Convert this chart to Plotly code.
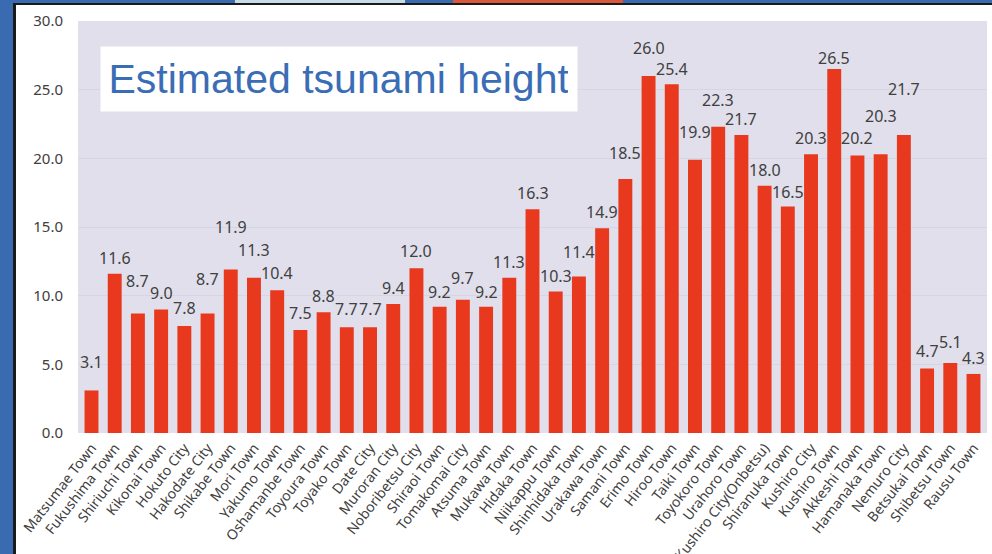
import plotly.graph_objects as go

towns = ["Matsumae Town", "Fukushima Town", "Shiriuchi Town", "Kikonai Town", "Hokuto City",
         "Hakodate City", "Shikabe Town", "Mori Town", "Yakumo Town", "Oshamanbe Town",
         "Toyoura Town", "Toyako Town", "Date City", "Muroran City", "Noboribetsu City",
         "Shiraoi Town", "Tomakomai City", "Atsuma Town", "Mukawa Town", "Hidaka Town",
         "Niikappu Town", "Shinhidaka Town", "Urakawa Town", "Samani Town", "Erimo Town",
         "Hiroo Town", "Taiki Town", "Toyokoro Town", "Urahoro Town", "Kushiro City(Onbetsu)",
         "Shiranuka Town", "Kushiro City", "Kushiro Town", "Akkeshi Town", "Hamanaka Town",
         "Nemuro City", "Betsukai Town", "Shibetsu Town", "Rausu Town"]
heights = [3.1, 11.6, 8.7, 9.0, 7.8, 8.7, 11.9, 11.3, 10.4, 7.5,
           8.8, 7.7, 7.7, 9.4, 12.0, 9.2, 9.7, 9.2, 11.3, 16.3,
           10.3, 11.4, 14.9, 18.5, 26.0, 25.4, 19.9, 22.3, 21.7, 18.0,
           16.5, 20.3, 26.5, 20.2, 20.3, 21.7, 4.7, 5.1, 4.3]
y_ticks = [0, 5, 10, 15, 20, 25, 30]

# style: label lift above bar top (px)
label_lift = [28, 16, 33, 16, 18, 35, 43, 28, 17, 17, 16, 18, 18, 16, 17, 15, 22, 15, 16, 16,
              16, 24, 16, 26, 28, 15, 28, 27, 16, 16, 14, 16, 11, 18, 38, 46, 17, 21, 16]

FONT = "Noto Sans, DejaVu Sans, sans-serif"
fig = go.Figure(go.Bar(x=towns, y=heights, marker=dict(color="#E8391F", line=dict(width=0)),
                       hoverinfo="x+y"))

for t, h, s in zip(towns, heights, label_lift):
    fig.add_annotation(x=t, y=h, text=f"{h:.1f}", showarrow=False, yanchor="middle",
                       yshift=s, font=dict(family=FONT, size=16, color="#404040"))

fig.add_annotation(xref="paper", yref="paper", x=0.2871, y=0.860, xanchor="center", yanchor="middle",
                   text="Estimated tsunami height", showarrow=False, bgcolor="white",
                   borderpad=9, width=458,
                   font=dict(family="Liberation Sans, Arial, sans-serif", size=41, color="#3A6DB5"))

# window frame decorations (pixel -> paper conversion)
L, R, T, B = 78, 987, 21, 433
def px(x): return (x - L) / (R - L)
def py(y): return (B - y) / (B - T)
shapes = [
    dict(type="rect", xref="paper", yref="paper", x0=px(0), x1=px(13), y0=py(554), y1=py(0),
         fillcolor="#3A6BB0", line=dict(width=0), layer="below"),
    dict(type="rect", xref="paper", yref="paper", x0=px(13), x1=px(16), y0=py(554), y1=py(3),
         fillcolor="#1a1a1a", line=dict(width=0), layer="below"),
    dict(type="rect", xref="paper", yref="paper", x0=px(0), x1=px(992), y0=py(3), y1=py(0),
         fillcolor="#3A6BB0", line=dict(width=0), layer="below"),
    dict(type="rect", xref="paper", yref="paper", x0=px(235), x1=px(405), y0=py(3), y1=py(0),
         fillcolor="#C8DCE6", line=dict(width=0), layer="below"),
    dict(type="rect", xref="paper", yref="paper", x0=px(453), x1=px(623), y0=py(3), y1=py(0),
         fillcolor="#D9573A", line=dict(width=0), layer="below"),
    dict(type="rect", xref="paper", yref="paper", x0=px(13), x1=px(992), y0=py(5), y1=py(3),
         fillcolor="#1a1a1a", line=dict(width=0), layer="below"),
]

fig.update_layout(
    width=992, height=554,
    margin=dict(l=L, r=992 - R, t=T, b=554 - B, autoexpand=False),
    paper_bgcolor="white", plot_bgcolor="#E0DFEB",
    bargap=0.4, showlegend=False, shapes=shapes,
    font=dict(family=FONT, size=14, color="#404040"),
)
fig.update_yaxes(range=[0, 30], tickvals=y_ticks, tickformat=".1f", gridcolor="#D6D5E3",
                 zeroline=False, showline=False, ticklabelstandoff=14, automargin=False,
                 tickfont=dict(family=FONT, size=15, color="#404040"))
fig.update_xaxes(tickangle=-52, tickfont=dict(family=FONT, size=14, color="#404040"),
                 showline=False, ticklabelstandoff=3, automargin=False)

fig.write_html("out.html", config={"displayModeBar": False},
               post_script="document.body.style.margin='0';document.body.style.overflow='hidden';")
